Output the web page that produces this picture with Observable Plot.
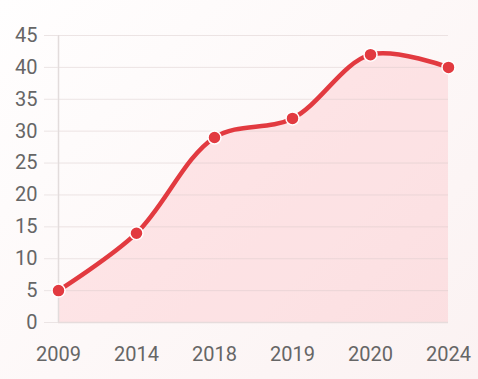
<!DOCTYPE html>
<html>
<head>
<meta charset="utf-8">
<script src="https://cdn.jsdelivr.net/npm/d3@7"></script>
<script src="https://cdn.jsdelivr.net/npm/@observablehq/plot@0.6"></script>
<style>
  html, body { margin: 0; padding: 0; }
  body { width: 478px; height: 379px; overflow: hidden;
    background: linear-gradient(135deg, #fffefe 0%, #fdf8f8 50%, #fbf2f2 100%); }
  #chart svg { display: block; }
</style>
</head>
<body>
<div id="chart"></div>
<script>
const years = ["2009", "2014", "2018", "2019", "2020", "2024"];
const values = [5, 14, 29, 32, 42, 40];
const yTicks = [0, 5, 10, 15, 20, 25, 30, 35, 40, 45];

const data = years.map((year, i) => ({year, value: values[i]}));

const red = "#e23a40";
const grid = "#ebe4e4";

const chart = Plot.plot({
  width: 478,
  height: 379,
  marginLeft: 58,
  marginRight: 30,
  marginTop: 35,
  marginBottom: 57,
  style: {background: "transparent", fontFamily: "Roboto, sans-serif", fontSize: "20px", color: "#666"},
  x: {type: "point", domain: years, padding: 0},
  y: {domain: [0, 45]},
  marks: [
    Plot.areaY(data, {x: "year", y: "value", curve: "catmull-rom", fill: "#ff3040", fillOpacity: 0.1}),
    Plot.ruleY(yTicks, {stroke: "#d8c8c8", strokeOpacity: 0.45, strokeWidth: 1}),
    Plot.ruleX([years[0]], {stroke: "#e2dcdc", strokeWidth: 1.5}),
    Plot.ruleY([0], {stroke: "#e6dcdc", strokeWidth: 1.5}),
    Plot.axisY({ticks: yTicks, tickSize: 14, tickPadding: 7, stroke: grid, fill: "#666", fontSize: 20, label: null}),
    Plot.axisX({tickSize: 0, tickPadding: 24, fill: "#666", fontSize: 20, label: null}),
    Plot.lineY(data, {x: "year", y: "value", curve: "catmull-rom", stroke: red, strokeWidth: 4.5}),
    Plot.dot(data, {x: "year", y: "value", r: 6.5, fill: red, stroke: "white", strokeWidth: 1.5})
  ]
});
document.getElementById("chart").append(chart);
</script>
</body>
</html>
